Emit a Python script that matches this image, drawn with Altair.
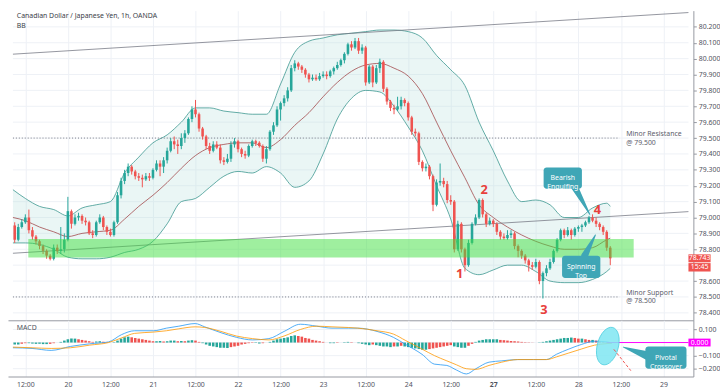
import altair as alt
import pandas as pd

FONT = "Noto Sans"
W = 695
H_MAIN = 314
H_MACD = 57

X_DOMAIN = [8.5, 199.05]
Y_DOMAIN = [78.353, 80.302]
M_DOMAIN = [-0.2596, 0.170]

# ---------------- candles (hourly, trading-hour index) ----------------
first_hour = 9
first_open = 78.95
closes = [
    78.86, 78.94, 78.97, 79.00, 78.92, 78.88, 78.85, 78.82, 78.79, 78.76,
    78.74, 78.81, 78.79, 78.80, 78.86, 79.04, 78.96, 79.00, 79.01, 78.98,
    78.97, 78.90, 78.89, 78.97, 79.00, 78.94, 78.91, 78.89, 78.97, 79.14,
    79.23, 79.28, 79.32, 79.29, 79.26, 79.25, 79.24, 79.26, 79.25, 79.30,
    79.34, 79.32, 79.36, 79.42, 79.48, 79.46, 79.45, 79.50, 79.53, 79.62,
    79.68, 79.65, 79.56, 79.51, 79.45, 79.42, 79.46, 79.44, 79.36, 79.35,
    79.37, 79.46, 79.48, 79.43, 79.40, 79.39, 79.45, 79.48, 79.47, 79.45,
    79.37, 79.43, 79.54, 79.58, 79.68, 79.72, 79.75, 79.80, 79.94, 79.97,
    79.95, 79.93, 79.90, 79.87, 79.88, 79.87, 79.89, 79.90, 79.89, 79.92,
    79.94, 79.96, 79.99, 80.03, 80.09, 80.07, 80.11, 80.05, 80.07, 79.85,
    79.95, 79.85, 79.94, 79.98, 79.81, 79.73, 79.69, 79.68, 79.70, 79.74,
    79.72, 79.63, 79.54, 79.53, 79.35, 79.31, 79.32, 79.26, 79.08, 79.22,
    79.23, 79.21, 79.11, 79.10, 78.80, 78.96, 78.80, 78.70, 78.84, 78.96,
    79.00, 79.11, 79.02, 78.96, 78.98, 78.96, 78.91, 78.88, 78.87, 78.89,
    78.90, 78.82, 78.79, 78.76, 78.73, 78.70, 78.69, 78.72, 78.60, 78.65,
    78.68, 78.72, 78.79, 78.86, 78.92, 78.89, 78.92, 78.89, 78.93, 78.94,
    78.95, 78.97, 79.00, 78.98, 78.96, 78.94, 78.91, 78.81, 78.743,
]
highs = [
    78.97, 78.96, 78.99, 79.02, 79.05, 78.94, 78.89, 78.86, 78.83, 78.80,
    78.77, 78.83, 78.83, 78.94, 78.90, 79.13, 79.05, 79.02, 79.03, 79.02,
    79.00, 78.98, 78.92, 78.98, 79.02, 79.01, 78.95, 78.93, 78.98, 79.16,
    79.25, 79.30, 79.34, 79.33, 79.30, 79.28, 79.27, 79.28, 79.28, 79.31,
    79.36, 79.36, 79.38, 79.44, 79.50, 79.51, 79.49, 79.53, 79.55, 79.63,
    79.70, 79.74, 79.66, 79.57, 79.52, 79.47, 79.48, 79.48, 79.46, 79.38,
    79.40, 79.48, 79.50, 79.49, 79.44, 79.42, 79.46, 79.49, 79.49, 79.48,
    79.46, 79.45, 79.55, 79.60, 79.70, 79.73, 79.77, 79.82, 79.96, 79.99,
    79.98, 79.96, 79.94, 79.91, 79.90, 79.90, 79.91, 79.92, 79.92, 79.93,
    79.95, 79.98, 80.00, 80.04, 80.10, 80.11, 80.13, 80.13, 80.09, 80.08,
    79.96, 79.96, 79.96, 80.00, 79.99, 79.82, 79.74, 79.71, 79.76, 79.76,
    79.75, 79.73, 79.64, 79.56, 79.54, 79.36, 79.34, 79.33, 79.27, 79.24,
    79.34, 79.25, 79.23, 79.14, 79.11, 78.98, 78.97, 78.81, 78.86, 78.97,
    79.02, 79.12, 79.12, 79.03, 79.00, 78.99, 78.97, 78.92, 78.90, 78.92,
    78.92, 78.91, 78.83, 78.80, 78.77, 78.74, 78.72, 78.74, 78.73, 78.66,
    78.70, 78.74, 78.80, 78.87, 78.93, 78.93, 78.94, 78.93, 78.94, 78.95,
    78.96, 78.98, 79.01, 79.02, 79.00, 78.97, 78.95, 78.92, 78.82,
]
lows = [
    78.84, 78.85, 78.93, 78.96, 78.90, 78.86, 78.83, 78.80, 78.77, 78.74,
    78.73, 78.73, 78.77, 78.77, 78.78, 78.85, 78.93, 78.95, 78.98, 78.96,
    78.95, 78.89, 78.87, 78.88, 78.96, 78.92, 78.89, 78.88, 78.88, 78.96,
    79.12, 79.21, 79.26, 79.27, 79.24, 79.23, 79.19, 79.23, 79.23, 79.24,
    79.29, 79.26, 79.28, 79.34, 79.41, 79.43, 79.40, 79.43, 79.47, 79.52,
    79.60, 79.63, 79.54, 79.49, 79.43, 79.40, 79.41, 79.43, 79.34, 79.33,
    79.34, 79.35, 79.44, 79.41, 79.38, 79.37, 79.38, 79.44, 79.45, 79.44,
    79.35, 79.34, 79.42, 79.52, 79.57, 79.61, 79.70, 79.73, 79.79, 79.92,
    79.93, 79.91, 79.88, 79.85, 79.86, 79.86, 79.86, 79.88, 79.87, 79.88,
    79.90, 79.93, 79.95, 79.97, 80.02, 80.05, 80.06, 80.03, 80.03, 79.83,
    79.84, 79.82, 79.84, 79.91, 79.79, 79.71, 79.67, 79.65, 79.67, 79.68,
    79.70, 79.61, 79.52, 79.51, 79.33, 79.29, 79.29, 79.24, 79.04, 79.07,
    79.20, 79.19, 79.09, 79.08, 78.78, 78.79, 78.78, 78.66, 78.69, 78.83,
    78.95, 78.99, 79.00, 78.94, 78.95, 78.94, 78.89, 78.86, 78.86, 78.86,
    78.87, 78.80, 78.75, 78.74, 78.71, 78.66, 78.67, 78.68, 78.58, 78.49,
    78.63, 78.67, 78.71, 78.78, 78.85, 78.87, 78.88, 78.86, 78.88, 78.91,
    78.91, 78.94, 78.96, 78.97, 78.94, 78.92, 78.89, 78.79, 78.70,
]
histogram = [
    -0.015, -0.015, -0.010, -0.005, -0.005, -0.008, -0.010, -0.010, -0.012, -0.012,
    -0.010, -0.005, 0.000, 0.005, 0.015, 0.025, 0.030, 0.030, 0.025, 0.020,
    0.015, 0.010, 0.005, 0.008, 0.010, 0.006, 0.002, 0.000, 0.003, 0.015,
    0.030, 0.040, 0.045, 0.040, 0.035, 0.030, 0.025, 0.020, 0.015, 0.010,
    0.010, 0.012, 0.008, 0.010, 0.015, 0.015, 0.010, 0.012, 0.010, 0.015,
    0.018, 0.015, 0.005, -0.005, -0.015, -0.025, -0.030, -0.035, -0.040, -0.040,
    -0.042, -0.035, -0.030, -0.025, -0.015, -0.010, -0.005, -0.003, -0.003, -0.008,
    -0.005, 0.000, 0.005, 0.015, 0.025, 0.030, 0.035, 0.040, 0.050, 0.055,
    0.050, 0.045, 0.035, 0.030, 0.020, 0.015, 0.010, 0.005, 0.000, -0.005,
    -0.005, -0.003, 0.000, 0.003, 0.005, 0.003, 0.000, -0.005, -0.010, -0.015,
    -0.020, -0.015, -0.020, -0.025, -0.030, -0.030, -0.035, -0.030, -0.030, -0.025,
    -0.030, -0.035, -0.040, -0.045, -0.050, -0.055, -0.055, -0.050, -0.045, -0.040,
    -0.035, -0.030, -0.025, -0.020, -0.030, -0.035, -0.040, -0.040, -0.025, -0.010,
    0.005, 0.015, 0.020, 0.025, 0.025, 0.025, 0.025, 0.020, 0.018, 0.015,
    0.012, 0.010, 0.008, 0.005, 0.003, 0.002, 0.001, 0.000, -0.002, 0.005,
    0.010, 0.015, 0.020, 0.025, 0.030, 0.035, 0.035, 0.038, 0.035, 0.030,
    0.030, 0.025, 0.020, 0.020, 0.015, 0.010, 0.005, 0.003, 0.002,
]

# ---------------- Bollinger bands (read at sample hours) ----------------
band_hours = [8.5, 12, 16, 20, 24, 28, 32, 36, 40, 44, 48, 52, 56, 60, 64, 68, 72, 76, 80, 84,
              88, 92, 96, 100, 104, 108, 112, 116, 120, 124, 128, 132, 136, 140, 144, 148, 152,
              156, 160, 164, 168, 172, 176, 177]
bb_upper = [79.175, 79.12, 79.07, 79.05, 79.01, 79.06, 79.08, 79.10, 79.28, 79.38, 79.47, 79.52,
            79.60, 79.69, 79.69, 79.67, 79.66, 79.65, 79.65, 79.84, 80.04, 80.11, 80.13, 80.15,
            80.16, 80.17, 80.18, 80.18, 80.17, 80.13, 80.02, 79.93, 79.83, 79.60, 79.42, 79.23,
            79.10, 79.11, 79.08, 79.00, 79.00, 79.06, 79.09, 79.07]
bb_middle = [79.00, 78.98, 78.94, 78.91, 78.88, 78.90, 78.91, 78.92, 78.99, 79.07, 79.14, 79.22,
             79.31, 79.39, 79.44, 79.46, 79.47, 79.47, 79.44, 79.49, 79.58, 79.66, 79.76, 79.85,
             79.92, 79.96, 79.97, 79.94, 79.89, 79.78, 79.60, 79.42, 79.25, 79.08, 79.00, 78.94,
             78.89, 78.85, 78.82, 78.80, 78.80, 78.81, 78.86, 78.87]
bb_lower = [78.84, 78.84, 78.83, 78.80, 78.75, 78.74, 78.74, 78.75, 78.78, 78.80, 78.85, 78.96,
            79.10, 79.12, 79.19, 79.26, 79.29, 79.28, 79.32, 79.28, 79.19, 79.23, 79.40, 79.62,
            79.75, 79.80, 79.79, 79.70, 79.57, 79.42, 79.20, 78.99, 78.68, 78.64, 78.67, 78.70,
            78.70, 78.66, 78.60, 78.59, 78.59, 78.61, 78.66, 78.68]

# ---------------- MACD lines (read at sample hours) ----------------
macd_hours = [8.5, 13.9, 19.3, 24.7, 30.1, 35.5, 39.1, 42.8, 48.2, 51.8, 55.3, 59.9, 62.6, 67.2,
              71.5, 76.1, 80.7, 85.0, 89.6, 94.2, 98.5, 103.1, 105.8, 111.2, 115.8, 119.3, 123.9,
              127.4, 130.9, 133.6, 136.4, 139.1, 142.8, 146.4, 150.9, 155.3, 159.0, 161.8, 165.3,
              168.8, 172.6, 176.1, 177.4]
macd_line = [-0.040, -0.045, -0.060, -0.030, -0.010, 0.005, 0.060, 0.090, 0.090, 0.110, 0.125,
             0.145, 0.120, 0.075, 0.040, 0.020, 0.030, 0.085, 0.140, 0.125, 0.110, 0.110, 0.110,
             0.085, 0.040, -0.015, -0.090, -0.165, -0.175, -0.210, -0.240, -0.200, -0.150,
             -0.140, -0.130, -0.130, -0.130, -0.090, -0.050, -0.015, 0.010, 0.005, -0.005]
signal_line = [-0.035, -0.040, -0.045, -0.040, -0.020, 0.000, 0.035, 0.070, 0.080, 0.090, 0.105,
               0.120, 0.115, 0.085, 0.050, 0.030, 0.020, 0.050, 0.100, 0.125, 0.120, 0.115, 0.110,
               0.090, 0.065, 0.015, -0.050, -0.100, -0.140, -0.170, -0.200, -0.205, -0.175,
               -0.150, -0.130, -0.130, -0.130, -0.110, -0.080, -0.050, -0.020, -0.008, -0.005]

# ---------------- axes ----------------
x_tick_hours = [12, 24, 36, 48, 60, 72, 84, 96, 108, 120, 132, 144, 156, 168, 180, 192]
x_tick_labels = ["12:00", "20", "12:00", "21", "12:00", "22", "12:00", "23", "12:00", "24",
                 "12:00", "27", "12:00", "28", "12:00", "29"]
# 78.700 and 0.000 sit under the price / zero tags, as in the reference
price_ticks = [78.4, 78.5, 78.6, 78.8, 78.9, 79.0, 79.1, 79.2, 79.3, 79.4, 79.5, 79.6,
               79.7, 79.8, 79.9, 80.0, 80.1, 80.2]
grid_prices = [78.4, 78.5, 78.6, 78.7, 78.8, 78.9, 79.0, 79.1, 79.2, 79.3, 79.4, 79.5, 79.6,
               79.7, 79.8, 79.9, 80.0, 80.1, 80.2]
macd_ticks = [-0.2, -0.1, 0.1]

# ---------------- annotations ----------------
trend_id = ["top", "top", "bottom", "bottom"]
trend_h = [8.5, 199.05, 8.5, 199.05]
trend_p = [80.028, 80.29, 78.775, 79.037]
level_prices = [79.5, 78.5]
level_end = 179.6
zone = {"h": 12.84, "h2": 183.6, "p": 78.748, "p2": 78.864}
wave_labels = ["1", "2", "3", "4"]
wave_h = [134.5, 141.4, 158.3, 173.4]
wave_p = [78.641, 79.175, 78.418, 79.047]
level_text = ["Minor Resistance", "@ 79.500", "Minor Support", "@ 78.500"]
level_text_p = [79.524, 79.471, 78.526, 78.473]
level_text_h = 181.5

box_text = ["Bearish\nEngulfing", "Spinning\nTop"]
box_h = [158.2, 163.4]
box_h2 = [169.0, 174.2]
box_p = [79.181, 78.62]
box_p2 = [79.315, 78.76]
ptr_id = ["be", "be", "st", "st"]
ptr_h = [167.0, 171.2, 169.8, 172.8]
ptr_p = [79.19, 79.02, 78.76, 78.89]
ptr_w = [7, 0, 7, 0]

mbox_text = ["Pivotal\nCrossover"]
mbox_h, mbox_h2, mbox_v, mbox_v2 = [186.9], [198.5], [-0.030], [-0.200]
mptr_h = [187.5, 180.7]
mptr_v = [-0.10, -0.035]
mptr_w = [9, 0]
ellipse_h, ellipse_v = [176.3], [-0.027]
arrow_h = [178.0, 182.8]
arrow_v = [-0.052, -0.215]

BOX = "#3fa6b6"
RED = "#ef5350"
GREEN = "#26a69a"

# ---------------- frames ----------------
hours = list(range(first_hour, first_hour + len(closes)))
opens = [first_open] + closes[:-1]
candles = pd.DataFrame({"h": hours, "open": opens, "close": closes, "high": highs, "low": lows})
candles["dir"] = ["up" if c >= o else "down" for o, c in zip(opens, closes)]

prev = [0.0] + histogram[:-1]


def hcat(v, p):
    if v >= 0:
        return "pos_up" if v >= p else "pos_down"
    return "neg_down" if v <= p else "neg_up"


hist_df = pd.DataFrame({"h": hours, "v": histogram, "zero": 0.0,
                        "cat": [hcat(v, p) for v, p in zip(histogram, prev)]})
bands = pd.DataFrame({"h": band_hours, "upper": bb_upper, "middle": bb_middle, "lower": bb_lower})
macd_df = pd.DataFrame({"h": macd_hours, "macd": macd_line, "signal": signal_line})

xs = alt.Scale(domain=X_DOMAIN, nice=False, zero=False)
ys = alt.Scale(domain=Y_DOMAIN, nice=False, zero=False)
ms = alt.Scale(domain=M_DOMAIN, nice=False, zero=False)

GRID = "#eef1f6"
x_axis_main = alt.Axis(values=x_tick_hours, labels=False, ticks=False, domain=True,
                       domainColor="#9598a1", grid=True, gridColor=GRID, title=None)
y_axis_main = alt.Axis(orient="right", values=price_ticks, format=".3f", grid=False,
                       title=None, tickSize=3, labelPadding=2)
label_expr = "[" + ",".join(f"'{t}'" for t in x_tick_labels) + "][round(datum.value/12)-1]"
x_axis_macd = alt.Axis(values=x_tick_hours, labelExpr=label_expr, ticks=False, domain=True,
                       domainColor="#9598a1", grid=True, gridColor=GRID, title=None,
                       labelPadding=4,
                       labelFontWeight={"condition": {"test": "datum.value == 144", "value": "bold"},
                                        "value": "normal"})
y_axis_macd = alt.Axis(orient="right", values=macd_ticks, format=".3f", grid=False,
                       title=None, tickSize=3, labelPadding=2)


def X(f="h"):
    return alt.X(f"{f}:Q", scale=xs, axis=x_axis_main)


def Y(f):
    return alt.Y(f"{f}:Q", scale=ys, axis=y_axis_main)


def XM(f="h"):
    return alt.X(f"{f}:Q", scale=xs, axis=x_axis_macd)


def YM(f):
    return alt.Y(f"{f}:Q", scale=ms, axis=y_axis_macd)


dir_color = alt.Color("dir:N", scale=alt.Scale(domain=["up", "down"], range=[GREEN, RED]), legend=None)

# ---------------- main panel ----------------
hgrid = alt.Chart(pd.DataFrame({"p": grid_prices, "h": [X_DOMAIN[0]] * len(grid_prices),
                                "h2": [X_DOMAIN[1]] * len(grid_prices)})).mark_rule(
    color=GRID, strokeWidth=1).encode(x=X(), x2=alt.X2("h2:Q"), y=Y("p"))
band_fill = alt.Chart(bands).mark_area(color="#b2dfdb", opacity=0.28, interpolate="monotone").encode(
    x=X(), y=Y("upper"), y2=alt.Y2("lower:Q"))
band_up = alt.Chart(bands).mark_line(color="#3b968f", strokeWidth=0.8, interpolate="monotone").encode(
    x=X(), y=Y("upper"))
band_lo = alt.Chart(bands).mark_line(color="#3b968f", strokeWidth=0.8, interpolate="monotone").encode(
    x=X(), y=Y("lower"))
band_mid = alt.Chart(bands).mark_line(color="#a2484a", strokeWidth=0.8, interpolate="monotone").encode(
    x=X(), y=Y("middle"))

levels = alt.Chart(pd.DataFrame({"p": level_prices, "h": [X_DOMAIN[0]] * 2, "h2": [level_end] * 2})).mark_rule(
    color="#787b86", strokeDash=[1, 2], strokeWidth=1).encode(x=X(), x2=alt.X2("h2:Q"), y=Y("p"))
trends = alt.Chart(pd.DataFrame({"id": trend_id, "h": trend_h, "p": trend_p})).mark_line(
    color="#787b86", strokeWidth=0.8).encode(x=X(), y=Y("p"), detail="id:N")

wicks = alt.Chart(candles).mark_rule(strokeWidth=1).encode(
    x=X(), y=Y("low"), y2=alt.Y2("high:Q"), color=dir_color)
bodies = alt.Chart(candles).mark_bar(size=2.6).encode(
    x=X(), y=Y("open"), y2=alt.Y2("close:Q"), color=dir_color)

green_zone = alt.Chart(pd.DataFrame([zone])).mark_rect(color="#40e040", opacity=0.5).encode(
    x=X(), x2=alt.X2("h2:Q"), y=Y("p"), y2=alt.Y2("p2:Q"))

waves = alt.Chart(pd.DataFrame({"t": wave_labels, "h": wave_h, "p": wave_p})).mark_text(
    font=FONT, fontSize=13, fontWeight="bold", color="#e8403c").encode(x=X(), y=Y("p"), text="t:N")

lvl_text = alt.Chart(pd.DataFrame({"t": level_text, "p": level_text_p,
                                   "h": [level_text_h] * len(level_text)})).mark_text(
    font=FONT, fontSize=7, color="#5d606b", align="left", baseline="middle").encode(
    x=X(), y=Y("p"), text="t:N")

title_df = pd.DataFrame({"t": ["Canadian Dollar / Japanese Yen, 1h, OANDA", "BB"],
                         "h": [9.6, 9.6], "p": [80.266, 80.206]})
titles = alt.Chart(title_df).mark_text(font=FONT, fontSize=7, color="#3b3e48", align="left",
                                       baseline="middle").encode(x=X(), y=Y("p"), text="t:N")

box_df = pd.DataFrame({"t": box_text, "h": box_h, "h2": box_h2, "p": box_p, "p2": box_p2})
box_df["hc"] = (box_df["h"] + box_df["h2"]) / 2
box_df["pc"] = (box_df["p"] + box_df["p2"]) / 2
boxes = alt.Chart(box_df).mark_rect(color=BOX, cornerRadius=3).encode(
    x=X(), x2=alt.X2("h2:Q"), y=Y("p"), y2=alt.Y2("p2:Q"))
box_txt = alt.Chart(box_df).mark_text(font=FONT, fontSize=7, color="white", lineBreak="\n",
                                      lineHeight=9.5).encode(x=X("hc"), y=Y("pc"), text="t:N")
pointers = alt.Chart(pd.DataFrame({"id": ptr_id, "h": ptr_h, "p": ptr_p, "w": ptr_w,
                                   "o": [0, 1, 0, 1]})).mark_trail(color=BOX).encode(
    x=X(), y=Y("p"), size=alt.Size("w:Q", scale=None), detail="id:N", order="o:Q")

price_tag = pd.DataFrame({"t": ["78.743", "15:45"], "h": [199.05, 199.05], "h2": [205.3, 205.3],
                          "p": [78.718, 78.660], "p2": [78.768, 78.713]})
price_tag["hc"] = 202.2
price_tag["pc"] = (price_tag["p"] + price_tag["p2"]) / 2
tag_rect = alt.Chart(price_tag).mark_rect(color=RED).encode(
    x=X(), x2=alt.X2("h2:Q"), y=Y("p"), y2=alt.Y2("p2:Q"))
tag_text = alt.Chart(price_tag).mark_text(font=FONT, fontSize=7, color="white").encode(
    x=X("hc"), y=Y("pc"), text="t:N")

main = alt.layer(hgrid, band_fill, band_up, band_lo, band_mid, levels, trends, wicks, bodies,
                 green_zone, waves, lvl_text, titles, pointers, boxes, box_txt, tag_rect,
                 tag_text).properties(width=W, height=H_MAIN)

# ---------------- MACD panel ----------------
macd_grid_vals = [-0.2, -0.1, 0.0, 0.1]
mgrid = alt.Chart(pd.DataFrame({"v": macd_grid_vals, "h": [X_DOMAIN[0]] * 4,
                                "h2": [X_DOMAIN[1]] * 4})).mark_rule(
    color=GRID, strokeWidth=1).encode(x=XM(), x2=alt.X2("h2:Q"), y=YM("v"))
hist_bars = alt.Chart(hist_df).mark_bar(size=2.6).encode(
    x=XM(), y=YM("v"), y2=alt.Y2("zero:Q"),
    color=alt.Color("cat:N", scale=alt.Scale(domain=["pos_up", "pos_down", "neg_down", "neg_up"],
                                             range=["#26a69a", "#b2dfdb", "#ff5252", "#ffcdd2"]),
                    legend=None))
macd_l = alt.Chart(macd_df).mark_line(color="#2196f3", strokeWidth=0.8, interpolate="monotone").encode(
    x=XM(), y=YM("macd"))
signal_l = alt.Chart(macd_df).mark_line(color="#ff9800", strokeWidth=0.8, interpolate="monotone").encode(
    x=XM(), y=YM("signal"))
zero_line = alt.Chart(pd.DataFrame({"h": [176.0], "h2": [199.05], "v": [0.0]})).mark_rule(
    color="#ff00ff", strokeWidth=1).encode(x=XM(), x2=alt.X2("h2:Q"), y=YM("v"))
ELLIPSE = "M0,-1 A0.55,1 0 1,1 0,1 A0.55,1 0 1,1 0,-1 Z"
ellipse = alt.Chart(pd.DataFrame({"h": ellipse_h, "v": ellipse_v})).mark_point(
    shape=ELLIPSE, size=1521, angle=15, filled=True, fill="#7fe6f2", fillOpacity=0.85,
    stroke="#55d0e0", strokeWidth=0.8).encode(x=XM(), y=YM("v"))
arrow = alt.Chart(pd.DataFrame({"h": arrow_h, "v": arrow_v})).mark_line(
    color=RED, strokeDash=[3, 2], strokeWidth=1).encode(x=XM(), y=YM("v"))
mbox_df = pd.DataFrame({"t": mbox_text, "h": mbox_h, "h2": mbox_h2, "v": mbox_v, "v2": mbox_v2})
mbox_df["hc"] = (mbox_df["h"] + mbox_df["h2"]) / 2
mbox_df["vc"] = (mbox_df["v"] + mbox_df["v2"]) / 2
mbox = alt.Chart(mbox_df).mark_rect(color=BOX, cornerRadius=3).encode(
    x=XM(), x2=alt.X2("h2:Q"), y=YM("v"), y2=alt.Y2("v2:Q"))
mbox_txt = alt.Chart(mbox_df).mark_text(font=FONT, fontSize=7, color="white", lineBreak="\n",
                                        lineHeight=9.5).encode(x=XM("hc"), y=YM("vc"), text="t:N")
mptr = alt.Chart(pd.DataFrame({"h": mptr_h, "v": mptr_v, "w": mptr_w, "o": [0, 1]})).mark_trail(
    color=BOX).encode(x=XM(), y=YM("v"), size=alt.Size("w:Q", scale=None), order="o:Q")
macd_title = alt.Chart(pd.DataFrame({"t": ["MACD"], "h": [9.6], "v": [0.111]})).mark_text(
    font=FONT, fontSize=7, color="#50535e", align="left").encode(x=XM(), y=YM("v"), text="t:N")
zero_tag = pd.DataFrame({"t": ["0.000"], "h": [199.05], "h2": [205.3], "v": [-0.03], "v2": [0.03],
                         "hc": [202.2], "vc": [0.0]})
ztag_rect = alt.Chart(zero_tag).mark_rect(color="#ff00ff").encode(
    x=XM(), x2=alt.X2("h2:Q"), y=YM("v"), y2=alt.Y2("v2:Q"))
ztag_text = alt.Chart(zero_tag).mark_text(font=FONT, fontSize=7, color="white").encode(
    x=XM("hc"), y=YM("vc"), text="t:N")

macd = alt.layer(mgrid, hist_bars, macd_l, signal_l, zero_line, ellipse, arrow, mptr, mbox, mbox_txt,
                 macd_title, ztag_rect, ztag_text).properties(width=W, height=H_MACD)

chart = alt.vconcat(main, macd, spacing=0).properties(padding=0, background="white").configure_view(
    stroke=None).configure_axis(
    labelFont=FONT, labelFontSize=7, labelColor="#50535e", tickColor="#9598a1",
    domainColor="#9598a1")

chart.save("out.html", embed_options={"renderer": "svg", "actions": False})
